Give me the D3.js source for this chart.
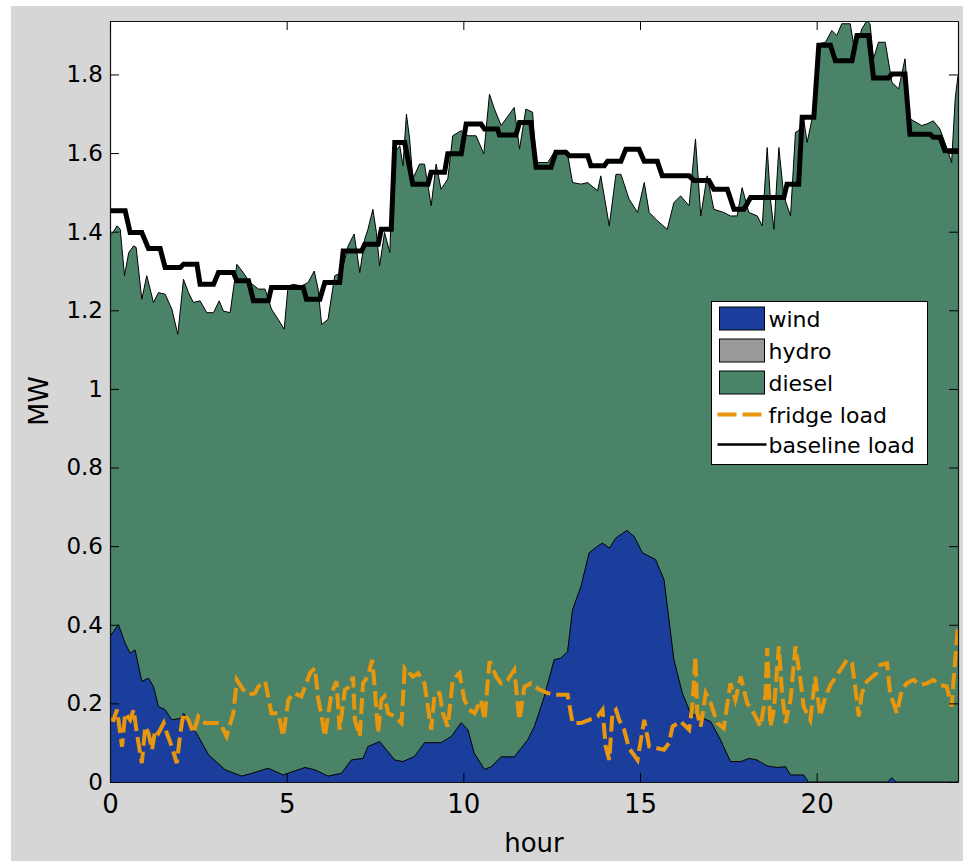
<!DOCTYPE html>
<html>
<head>
<meta charset="utf-8">
<script src="https://cdn.jsdelivr.net/npm/d3@7"></script>
<style>
  html, body { margin: 0; padding: 0; background: #fff; }
  svg { display: block; }
  text { font-family: 'DejaVu Sans', 'Liberation Sans', sans-serif; fill: #000; }
</style>
</head>
<body>
<svg id="chart" width="963" height="861"></svg>
<script>
// -------------------------------------------------------------------------
// Data (hours / MW)

// total generation = wind + hydro + diesel (top edge of the green area)
const supplyHour = [0, 0.10, 0.20, 0.29, 0.41, 0.53, 0.67, 0.74, 0.90, 1.04, 1.23, 1.37, 1.56, 1.75, 1.92,
  2.08, 2.22, 2.36, 2.55, 2.74, 2.93, 3.09, 3.21, 3.40, 3.59, 3.77, 3.96, 4.20, 4.39, 4.57, 4.76, 4.93,
  5.04, 5.19, 5.42, 5.61, 5.78, 5.89, 5.99, 6.17, 6.36, 6.55, 6.74, 6.91, 7.07, 7.21, 7.30, 7.44, 7.54,
  7.63, 7.77, 7.92, 8.01, 8.20, 8.29, 8.39, 8.48, 8.57, 8.76, 8.90, 9.09, 9.23, 9.37, 9.56, 9.70, 9.94,
  10.13, 10.36, 10.58, 10.74, 10.88, 11.07, 11.44, 11.59, 11.77, 11.96, 12.06, 12.39, 12.57, 12.95, 13.09,
  13.33, 13.52, 13.80, 13.89, 14.13, 14.32, 14.46, 14.69, 14.93, 15.12, 15.26, 15.49, 15.77, 15.96, 16.15,
  16.39, 16.57, 16.72, 16.90, 17.09, 17.37, 17.56, 17.75, 17.89, 18.08, 18.32, 18.46, 18.60, 18.69, 18.79,
  18.93, 19.07, 19.26, 19.40, 19.49, 19.63, 19.73, 19.87, 20.06, 20.25, 20.43, 20.57, 20.71, 20.95, 21.05,
  21.19, 21.28, 21.42, 21.51, 21.61, 21.75, 21.94, 22.13, 22.32, 22.50, 22.64, 22.74, 22.97, 23.12, 23.30,
  23.49, 23.68, 23.82, 23.92, 24.00];
const supplyMW = [1.39, 1.40, 1.415, 1.406, 1.288, 1.347, 1.364, 1.360, 1.228, 1.288, 1.220, 1.245, 1.241, 1.203, 1.139,
  1.279, 1.245, 1.220, 1.224, 1.194, 1.194, 1.224, 1.198, 1.194, 1.317, 1.296, 1.271, 1.254, 1.254, 1.203, 1.177, 1.152,
  1.262, 1.266, 1.262, 1.271, 1.300, 1.254, 1.164, 1.177, 1.288, 1.296, 1.364, 1.394, 1.296, 1.381, 1.406, 1.457, 1.398,
  1.313, 1.398, 1.347, 1.593, 1.619, 1.568, 1.699, 1.636, 1.534, 1.572, 1.572, 1.466, 1.572, 1.508, 1.534, 1.644, 1.657,
  1.644, 1.644, 1.598, 1.750, 1.712, 1.670, 1.716, 1.610, 1.712, 1.704, 1.576, 1.576, 1.602, 1.598, 1.525,
  1.521, 1.525, 1.504, 1.542, 1.415, 1.546, 1.546, 1.483, 1.449, 1.525, 1.449, 1.428, 1.406, 1.474, 1.491,
  1.466, 1.636, 1.440, 1.542, 1.457, 1.449, 1.440, 1.440, 1.512, 1.449, 1.440, 1.415, 1.614, 1.483, 1.406,
  1.614, 1.491, 1.440, 1.653, 1.657, 1.687, 1.627, 1.687, 1.878, 1.882, 1.912, 1.899, 1.929, 1.929, 1.874,
  1.891, 1.916, 1.937, 1.929, 1.840, 1.882, 1.882, 1.780, 1.763, 1.840, 1.687, 1.682, 1.670, 1.674, 1.682,
  1.661, 1.614, 1.576, 1.738, 1.797];

// wind output (hydro stays at 0 all day, so it only shows up in the legend)
const windHour = [0, 0.10, 0.24, 0.43, 0.57, 0.71, 0.90, 1.09, 1.23, 1.37, 1.56, 1.75, 1.99, 2.08, 2.27, 2.50,
  2.79, 3.26, 3.73, 4.01, 4.48, 4.90, 5.52, 5.80, 6.17, 6.55, 6.83, 7.16, 7.30, 7.63, 8.06, 8.29, 8.62, 8.90,
  9.37, 9.66, 9.94, 10.13, 10.31, 10.60, 10.79, 11.07, 11.44, 11.82, 12.01, 12.29, 12.57, 12.76, 12.95, 13.09,
  13.33, 13.56, 13.80, 13.94, 14.13, 14.32, 14.63, 14.83, 15.07, 15.44, 15.68, 15.96, 16.20, 16.43, 17.00,
  17.28, 17.56, 17.85, 18.08, 18.31, 18.60, 18.88, 19.12, 19.26, 19.63, 19.77, 22.00, 22.13, 22.25, 24.00];
const windMW = [0.37, 0.383, 0.40, 0.353, 0.328, 0.336, 0.256, 0.264, 0.243, 0.192, 0.184, 0.158, 0.162, 0.175, 0.150, 0.116,
  0.069, 0.031, 0.015, 0.022, 0.035, 0.018, 0.037, 0.031, 0.015, 0.022, 0.056, 0.060, 0.090, 0.103, 0.056, 0.052, 0.065, 0.100,
  0.100, 0.116, 0.151, 0.133, 0.073, 0.032, 0.039, 0.064, 0.064, 0.107, 0.141, 0.217, 0.311, 0.315, 0.332, 0.438,
  0.498, 0.583, 0.600, 0.608, 0.595, 0.621, 0.640, 0.625, 0.583, 0.566, 0.515, 0.311, 0.226, 0.175, 0.154,
  0.107, 0.052, 0.052, 0.060, 0.056, 0.041, 0.037, 0.039, 0.018, 0.018, 0, 0, 0.011, 0, 0];

// fridge load (dashed orange)
const fridgeHour = [0, 0.10, 0.20, 0.34, 0.43, 0.57, 0.67, 0.76, 0.90, 1.00, 1.09, 1.19, 1.28, 1.37, 1.52, 1.61, 1.75,
  1.89, 1.99, 2.08, 2.22, 2.36, 2.50, 2.69, 2.88, 3.12, 3.30, 3.49, 3.59, 3.77, 3.92, 4.10, 4.20, 4.39, 4.57,
  4.76, 4.90, 5.05, 5.19, 5.42, 5.66, 5.80, 5.89, 5.99, 6.08, 6.27, 6.41, 6.50, 6.65, 6.79, 6.88, 6.93, 7.07,
  7.16, 7.30, 7.42, 7.49, 7.59, 7.68, 7.77, 7.87, 8.06, 8.25, 8.34, 8.57, 8.72, 8.90, 9.09, 9.19, 9.33, 9.42,
  9.56, 9.70, 9.89, 10.03, 10.17, 10.32, 10.50, 10.60, 10.74, 10.93,
  11.07, 11.26, 11.44, 11.59, 11.73, 11.92, 12.15, 12.39, 12.67, 12.95, 13.09, 13.33, 13.56, 13.80, 13.94,
  14.03, 14.13, 14.22, 14.32, 14.41, 14.55, 14.69, 14.93, 15.12, 15.26, 15.49, 15.68, 15.82, 15.92, 16.15,
  16.39, 16.48, 16.57, 16.62, 16.72, 16.86, 17.00, 17.19, 17.37, 17.56, 17.70, 17.85, 18.03, 18.22, 18.41,
  18.55, 18.60, 18.69, 18.79, 18.93, 19.02, 19.12, 19.26, 19.40, 19.54, 19.63, 19.82, 19.96, 20.10, 20.25,
  20.39, 20.67, 20.86, 21.00, 21.09, 21.19, 21.28, 21.42, 21.70, 21.80, 21.99, 22.08, 22.27, 22.41, 22.55,
  22.74, 22.93, 23.12, 23.30, 23.49, 23.68, 23.82, 23.92, 24.00];
const fridgeMW = [0.16, 0.158, 0.184, 0.090, 0.175, 0.158, 0.184, 0.124, 0.048, 0.141, 0.124, 0.082, 0.133, 0.124, 0.150, 0.124, 0.090,
  0.048, 0.124, 0.175, 0.158, 0.124, 0.167, 0.150, 0.150, 0.150, 0.116, 0.175, 0.260, 0.235, 0.222, 0.226, 0.243, 0.256, 0.175,
  0.175, 0.116, 0.209, 0.226, 0.218, 0.277, 0.290, 0.213, 0.167, 0.116, 0.226, 0.256, 0.133, 0.235, 0.243, 0.268, 0.158, 0.116,
  0.251, 0.268, 0.311, 0.243, 0.124, 0.209, 0.218, 0.175, 0.167, 0.150, 0.290, 0.268, 0.277, 0.251, 0.133, 0.226, 0.226, 0.175,
  0.141, 0.260, 0.277, 0.209, 0.184, 0.175, 0.209, 0.158, 0.307, 0.268,
  0.251, 0.260, 0.285, 0.158, 0.243, 0.251, 0.235, 0.226, 0.222, 0.222, 0.150, 0.150, 0.158, 0.167, 0.184,
  0.090, 0.056, 0.175, 0.184, 0.158, 0.133, 0.086, 0.056, 0.158, 0.090, 0.086, 0.082, 0.099, 0.141, 0.154,
  0.133, 0.192, 0.319, 0.175, 0.141, 0.226, 0.201, 0.150, 0.137, 0.251, 0.209, 0.268, 0.201, 0.175, 0.141,
  0.218, 0.341, 0.141, 0.184, 0.345, 0.226, 0.150, 0.209, 0.345, 0.260, 0.192, 0.158, 0.268, 0.167, 0.218,
  0.247, 0.285, 0.311, 0.302, 0.243, 0.167, 0.226, 0.256, 0.277, 0.298, 0.302, 0.226, 0.175, 0.235, 0.251,
  0.260, 0.247, 0.251, 0.260, 0.247, 0.243, 0.192, 0.311, 0.396];

// baseline load: each step is given by its start and end hour
const baselineHour = [0, 0.43, 0.57, 0.90, 1.09, 1.42, 1.56, 1.99, 2.08, 2.46, 2.55, 2.93, 3.07, 3.49, 3.59, 3.92,
  4.06, 4.48, 4.57, 5.47, 5.56, 5.94, 6.08, 6.50, 6.60, 7.12, 7.21, 7.59, 7.68, 7.96, 8.06, 8.34, 8.57, 9.00,
  9.09, 9.47, 9.56, 9.94, 10.08, 10.50, 10.60, 10.97, 11.02, 11.49, 11.59, 11.91, 12.06, 12.48, 12.62, 12.90,
  13.00, 13.52, 13.61, 13.99, 14.08, 14.46, 14.60, 14.97, 15.12, 15.49, 15.63, 16.39, 16.53, 16.95, 17.09,
  17.47, 17.66, 17.94, 18.13, 19.07, 19.16, 19.49, 19.59, 19.92, 20.06, 20.39, 20.53, 21.00, 21.14, 21.47,
  21.61, 22.03, 22.13, 22.50, 22.64, 23.21, 23.30, 23.49, 23.63, 24.00];
const baselineMW = [1.453, 1.453, 1.398, 1.398, 1.357, 1.357, 1.309, 1.309, 1.317, 1.317, 1.266, 1.266, 1.296, 1.296, 1.275, 1.275,
  1.224, 1.224, 1.258, 1.258, 1.228, 1.228, 1.271, 1.271, 1.351, 1.351, 1.368, 1.368, 1.406, 1.406, 1.627, 1.627, 1.521, 1.521,
  1.551, 1.551, 1.598, 1.598, 1.674, 1.674, 1.661, 1.661, 1.646, 1.646, 1.678, 1.678, 1.564, 1.564, 1.602, 1.602,
  1.593, 1.593, 1.568, 1.568, 1.579, 1.579, 1.610, 1.610, 1.579, 1.579, 1.542, 1.542, 1.530, 1.530, 1.508,
  1.508, 1.457, 1.457, 1.487, 1.487, 1.521, 1.521, 1.691, 1.691, 1.874, 1.874, 1.835, 1.835, 1.899, 1.899,
  1.791, 1.791, 1.801, 1.801, 1.648, 1.648, 1.640, 1.640, 1.606, 1.606];

const xTicks = [0, 5, 10, 15, 20];
const yTicks = [0, 0.2, 0.4, 0.6, 0.8, 1, 1.2, 1.4, 1.6, 1.8];

const legendItems = [
  { label: 'wind', kind: 'patch', color: '#1b3e9c' },
  { label: 'hydro', kind: 'patch', color: '#999999' },
  { label: 'diesel', kind: 'patch', color: '#4b8369' },
  { label: 'fridge load', kind: 'dash', color: '#e8960c' },
  { label: 'baseline load', kind: 'line', color: '#000000' }
];

// -------------------------------------------------------------------------
// Layout

const width = 963;
const height = 861;
const plot = { left: 110, right: 958, top: 21, bottom: 782 };

const x = d3.scaleLinear().domain([0, 24]).range([plot.left, plot.right]);
const y = d3.scaleLinear().domain([0, 1.936]).range([plot.bottom, plot.top]);

const zip = (hours, values) => hours.map((h, i) => ({ h: h, v: values[i] }));

const svg = d3.select('#chart');

// figure background (gray) and axes background (white)
svg.append('rect')
  .attr('x', 11).attr('y', 6)
  .attr('width', width - 11).attr('height', height - 6)
  .attr('fill', '#d6d6d6');
svg.append('rect')
  .attr('x', plot.left).attr('y', plot.top)
  .attr('width', plot.right - plot.left).attr('height', plot.bottom - plot.top)
  .attr('fill', '#fff');

svg.append('clipPath').attr('id', 'plot-clip')
  .append('rect')
  .attr('x', plot.left).attr('y', plot.top)
  .attr('width', plot.right - plot.left).attr('height', plot.bottom - plot.top);

const g = svg.append('g').attr('clip-path', 'url(#plot-clip)');

const area = d3.area().x(d => x(d.h)).y0(y(0)).y1(d => y(d.v));
const line = d3.line().x(d => x(d.h)).y(d => y(d.v));

// diesel fills everything up to total generation, wind sits on top of it
const supply = zip(supplyHour, supplyMW);
const wind = zip(windHour, windMW);

g.append('path').datum(supply)
  .attr('d', area)
  .attr('fill', legendItems[2].color);
g.append('path').datum(supply)
  .attr('d', line)
  .attr('fill', 'none').attr('stroke', '#000').attr('stroke-width', 1);

g.append('path').datum(wind)
  .attr('d', area)
  .attr('fill', legendItems[0].color);
g.append('path').datum(wind)
  .attr('d', line)
  .attr('fill', 'none').attr('stroke', '#000').attr('stroke-width', 1);

g.append('path').datum(zip(fridgeHour, fridgeMW))
  .attr('d', line)
  .attr('fill', 'none')
  .attr('stroke', legendItems[3].color)
  .attr('stroke-width', 4)
  .attr('stroke-dasharray', '16,6');

g.append('path').datum(zip(baselineHour, baselineMW))
  .attr('d', line)
  .attr('fill', 'none')
  .attr('stroke', '#000')
  .attr('stroke-width', 5)
  .attr('stroke-linejoin', 'miter');

// -------------------------------------------------------------------------
// Axes (box with inward ticks on all four sides)

const styleAxis = (sel, size) => {
  sel.attr('font-family', "'DejaVu Sans', sans-serif")
    .attr('font-size', size)
    .attr('color', '#000');
  sel.select('.domain').attr('stroke', '#111').attr('stroke-width', 1.2);
};

svg.append('g')
  .attr('transform', `translate(0,${plot.bottom})`)
  .call(d3.axisBottom(x).tickValues(xTicks).tickSizeInner(-9).tickSizeOuter(0).tickPadding(13))
  .call(sel => styleAxis(sel, 26));

svg.append('g')
  .attr('transform', `translate(${plot.left},0)`)
  .call(d3.axisLeft(y).tickValues(yTicks).tickFormat(d3.format('~g')).tickSizeInner(-9).tickSizeOuter(0).tickPadding(7))
  .call(sel => styleAxis(sel, 23));

svg.append('g')
  .attr('transform', `translate(0,${plot.top})`)
  .call(d3.axisTop(x).tickValues(xTicks).tickFormat('').tickSizeInner(-9).tickSizeOuter(0))
  .call(sel => styleAxis(sel, 10));

svg.append('g')
  .attr('transform', `translate(${plot.right},0)`)
  .call(d3.axisRight(y).tickValues(yTicks).tickFormat('').tickSizeInner(-9).tickSizeOuter(0))
  .call(sel => styleAxis(sel, 10));

svg.append('text')
  .attr('x', (plot.left + plot.right) / 2)
  .attr('y', 852)
  .attr('text-anchor', 'middle')
  .attr('font-size', 26)
  .text('hour');

svg.append('text')
  .attr('transform', 'translate(48,401) rotate(-90)')
  .attr('text-anchor', 'middle')
  .attr('font-size', 27)
  .text('MW');

// -------------------------------------------------------------------------
// Legend

const legend = svg.append('g').attr('transform', 'translate(711.5,301.5)');
legend.append('rect')
  .attr('width', 216).attr('height', 163)
  .attr('fill', '#fff').attr('stroke', '#000').attr('stroke-width', 1);

const rowY = [17, 49, 81, 113, 143];
legendItems.forEach((item, i) => {
  const row = legend.append('g').attr('transform', `translate(0,${rowY[i]})`);
  if (item.kind === 'patch') {
    row.append('rect')
      .attr('x', 8).attr('y', -11.5)
      .attr('width', 45).attr('height', 23)
      .attr('fill', item.color).attr('stroke', '#000').attr('stroke-width', 1);
  } else {
    row.append('line')
      .attr('x1', 6).attr('x2', item.kind === 'dash' ? 51 : 55)
      .attr('stroke', item.color)
      .attr('stroke-width', item.kind === 'dash' ? 4 : 2.5)
      .attr('stroke-dasharray', item.kind === 'dash' ? '19,6' : null);
  }
  row.append('text')
    .attr('x', 57).attr('y', 8)
    .attr('font-size', 22)
    .text(item.label);
});
</script>
</body>
</html>
